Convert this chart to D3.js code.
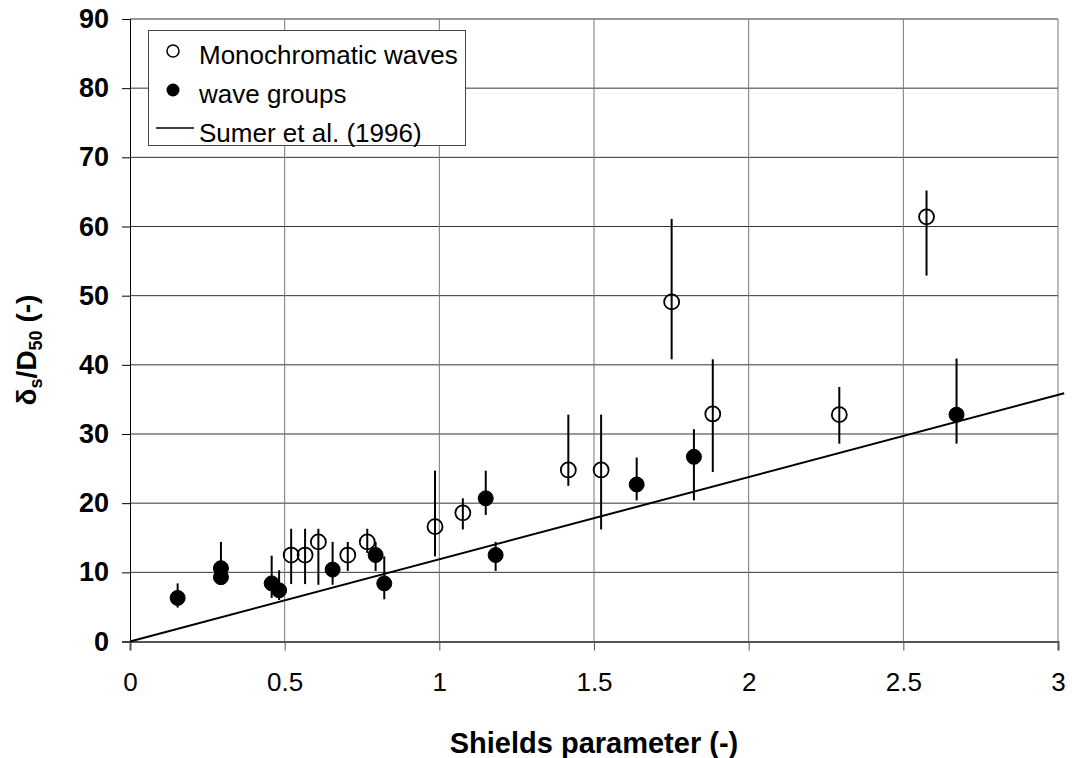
<!DOCTYPE html>
<html>
<head>
<meta charset="utf-8">
<style>
    body { margin: 0; background-color: #ffffff; }
    svg text { font-family: "Liberation Sans", Arial, sans-serif; fill: #000; }
</style>
</head>
<body>
<div class="board"></div>
<script src="https://d3js.org/d3.v7.min.js"></script>
<script>
    // ---- data ----
    // monochromatic waves (open circles)
    const monoX  = [0.521, 0.566, 0.609, 0.704, 0.767, 0.986, 1.076, 1.417, 1.523, 1.751, 1.884, 2.293, 2.575]
    const monoY  = [12.5, 12.5, 14.4, 12.5, 14.4, 16.6, 18.6, 24.8, 24.8, 49.1, 32.9, 32.8, 61.4]
    const monoLo = [8.3, 8.3, 8.2, 10.2, 12.8, 12.3, 16.2, 22.5, 16.2, 40.8, 24.5, 28.6, 52.9]
    const monoHi = [16.3, 16.3, 16.3, 14.4, 16.3, 24.7, 20.7, 32.8, 32.8, 61.1, 40.8, 36.8, 65.2]

    // wave groups (filled circles)
    const groupX  = [0.154, 0.294, 0.294, 0.458, 0.482, 0.655, 0.794, 0.822, 1.150, 1.182, 1.638, 1.823, 2.672]
    const groupY  = [6.3, 10.6, 9.3, 8.4, 7.4, 10.4, 12.5, 8.4, 20.7, 12.5, 22.7, 26.7, 32.8]
    const groupLo = [4.9, 9.3, 9.3, 6.3, 6.0, 8.2, 10.2, 6.1, 18.3, 10.2, 20.4, 20.4, 28.6]
    const groupHi = [8.4, 14.4, 9.3, 12.4, 10.3, 14.4, 14.4, 12.3, 24.7, 14.4, 26.6, 30.7, 40.9]

    // Sumer et al. (1996) line end points
    const sumerX = [0, 3.02]
    const sumerY = [0, 35.9]

    const xTicks = [0, 0.5, 1, 1.5, 2, 2.5, 3]
    const yTicks = [0, 10, 20, 30, 40, 50, 60, 70, 80, 90]
    const legendLabels = ["Monochromatic waves", "wave groups", "Sumer et al. (1996)"]

    // ---- layout ----
    const W = 1072, H = 758
    const PL = 130, PR = 1058, PT = 19, PB = 641.5
    const R = 7.5

    const svg = d3.select(".board")
        .append("svg")
        .attr("width", W)
        .attr("height", H)

    const x = d3.scaleLinear().domain([0, 3]).range([PL, PR])
    const y = d3.scaleLinear().domain([0, 90]).range([PB, PT])

    // grid
    const grid = svg.append("g")
    grid.selectAll(".hgrid")
        .data(yTicks.slice(1))
        .enter()
        .append("line")
        .attr("x1", PL).attr("x2", PR)
        .attr("y1", d => y(d)).attr("y2", d => y(d))
        .attr("stroke", "#333")
        .attr("stroke-width", 1)
    grid.selectAll(".vgrid")
        .data(xTicks.slice(1))
        .enter()
        .append("line")
        .attr("x1", d => x(d)).attr("x2", d => x(d))
        .attr("y1", PT).attr("y2", PB)
        .attr("stroke", "#777")
        .attr("stroke-width", 1)

    // axes
    const yAxis = svg.append("g")
        .attr("transform", "translate(" + PL + ",0)")
        .call(d3.axisLeft(y).tickValues(yTicks).tickSize(8).tickPadding(13).tickFormat(d3.format("d")))
    yAxis.select(".domain").attr("stroke", "#000")
    yAxis.selectAll("line").attr("stroke", "#000")
    yAxis.selectAll("text")
        .style("font-family", "Liberation Sans, Arial, sans-serif")
        .style("font-size", "27px")
        .style("font-weight", "bold")
        .attr("fill", "#000")

    const xAxis = svg.append("g")
        .attr("transform", "translate(0," + PB + ")")
        .call(d3.axisBottom(x).tickValues(xTicks).tickSize(9).tickPadding(22).tickFormat(d => d))
    xAxis.select(".domain").attr("stroke", "#555").attr("stroke-width", 2)
    xAxis.selectAll("line").attr("stroke", "#555")
    xAxis.selectAll("text")
        .style("font-family", "Liberation Sans, Arial, sans-serif")
        .style("font-size", "26px")
        .style("font-weight", "500")
        .attr("fill", "#000")

    // axis titles
    svg.append("text")
        .attr("x", x(1.5))
        .attr("y", 753)
        .attr("text-anchor", "middle")
        .style("font-size", "29px")
        .style("font-weight", "bold")
        .text("Shields parameter (-)")

    const yTitle = svg.append("text")
        .attr("transform", "translate(36,350) rotate(-90)")
        .attr("text-anchor", "middle")
        .style("font-size", "28px")
        .style("font-weight", "bold")
    yTitle.append("tspan").text("δ")
    yTitle.append("tspan").attr("dy", 6).style("font-size", "18px").text("s")
    yTitle.append("tspan").attr("dy", -6).text("/D")
    yTitle.append("tspan").attr("dy", 6).style("font-size", "18px").text("50")
    yTitle.append("tspan").attr("dy", -6).text(" (-)")

    // Sumer line
    svg.append("path")
        .datum(d3.zip(sumerX, sumerY))
        .attr("fill", "none")
        .attr("stroke", "#000")
        .attr("stroke-width", 2)
        .attr("d", d3.line().x(d => x(d[0])).y(d => y(d[1])))

    function appendSeries(xs, ys, lo, hi, filled, cls) {
        const g = svg.append("g").classed(cls, true)
        const data = xs.map((d, i) => ({ x: d, y: ys[i], lo: lo[i], hi: hi[i] }))

        g.selectAll("line")
            .data(data)
            .enter()
            .append("line")
            .attr("x1", d => x(d.x)).attr("x2", d => x(d.x))
            .attr("y1", d => y(d.lo)).attr("y2", d => y(d.hi))
            .attr("stroke", "#000")
            .attr("stroke-width", 2)

        g.selectAll("circle")
            .data(data)
            .enter()
            .append("circle")
            .attr("cx", d => x(d.x))
            .attr("cy", d => y(d.y))
            .attr("r", R)
            .attr("fill", filled ? "#000" : "#fff")
            .attr("fill-opacity", filled ? 1 : 0)
            .attr("stroke", "#000")
            .attr("stroke-width", filled ? 1 : 1.8)
    }

    appendSeries(monoX, monoY, monoLo, monoHi, false, "mono")
    appendSeries(groupX, groupY, groupLo, groupHi, true, "groups")

    // legend
    const legend = svg.append("g")
    legend.append("rect")
        .attr("x", 148.5).attr("y", 30.5)
        .attr("width", 317).attr("height", 115)
        .attr("fill", "#fff")
        .attr("stroke", "#444")
        .attr("stroke-width", 1)

    const rowY = [51, 90, 128]
    legend.append("circle")
        .attr("cx", 173).attr("cy", rowY[0]).attr("r", 6)
        .attr("fill", "#fff").attr("stroke", "#000").attr("stroke-width", 1.5)
    legend.append("circle")
        .attr("cx", 173).attr("cy", rowY[1]).attr("r", 6.5)
        .attr("fill", "#000")
    legend.append("line")
        .attr("x1", 156).attr("x2", 194)
        .attr("y1", rowY[2]).attr("y2", rowY[2])
        .attr("stroke", "#000").attr("stroke-width", 1.5)

    legend.selectAll(".label")
        .data(legendLabels)
        .enter()
        .append("text")
        .attr("x", 199)
        .attr("y", (d, i) => [64, 103, 142][i])
        .style("font-size", "26px")
        .text(d => d)
</script>
</body>
</html>
